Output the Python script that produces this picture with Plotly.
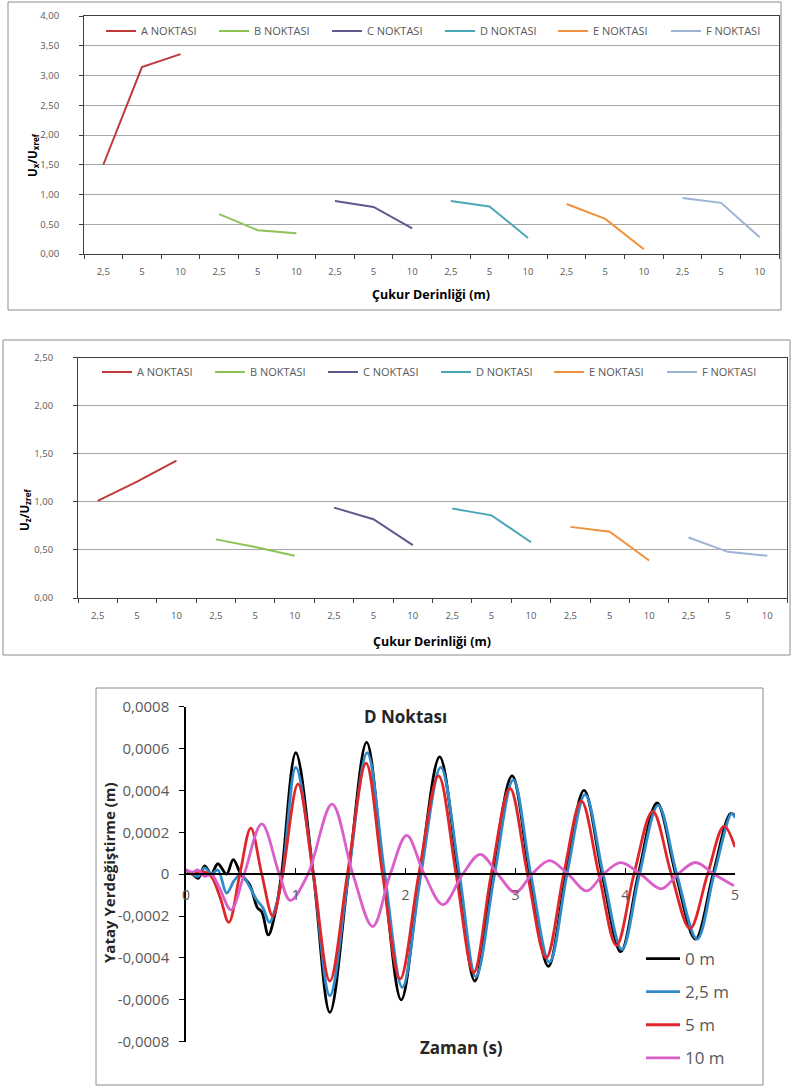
import plotly.graph_objects as go

W, H = 797, 1088

# ---- Panels 1 & 2: displacement ratios per point and pit depth ----
points = ["A NOKTASI", "B NOKTASI", "C NOKTASI", "D NOKTASI", "E NOKTASI", "F NOKTASI"]
point_colors = ["#C0393B", "#8DC255", "#5D5A8E", "#4BA6B8", "#F0913D", "#9DB3D6"]
depth_labels = ["2,5", "5", "10"]

ratio_x = [
    [1.50, 3.14, 3.36],
    [0.67, 0.40, 0.35],
    [0.89, 0.79, 0.43],
    [0.89, 0.80, 0.27],
    [0.84, 0.59, 0.08],
    [0.94, 0.86, 0.28],
]
ratio_z = [
    [1.01, 1.21, 1.43],
    [0.61, 0.53, 0.44],
    [0.94, 0.82, 0.55],
    [0.93, 0.86, 0.58],
    [0.74, 0.69, 0.39],
    [0.63, 0.48, 0.44],
]

# ---- Panel 3: horizontal displacement time history at point D ----
t_0m = [0.00, 0.06, 0.11, 0.17, 0.23, 0.29, 0.37, 0.43, 0.50, 0.58, 0.65, 0.69, 0.75, 0.81, 0.87,
        1.00, 1.16, 1.31, 1.48, 1.645, 1.80, 1.96, 2.13, 2.31, 2.48, 2.63, 2.79, 2.97, 3.13, 3.30,
        3.46, 3.625, 3.79, 3.96, 4.12, 4.29, 4.46, 4.64, 4.80, 4.96, 5.00]
u_0m = [0.00002, 0.0, -0.00002, 0.00004, 0.0, 0.00005, 0.0, 0.00007, 0.0, -0.00005, -0.00016,
        -0.00018, -0.00029, -0.00019, 0.0,
        0.00058, 0.0, -0.00066, 0.0, 0.00063, 0.0, -0.00060, 0.0, 0.00056, 0.0, -0.00051, 0.0,
        0.00047, 0.0, -0.00044, 0.0, 0.00040, 0.0, -0.00037, 0.0, 0.00034, 0.0, -0.00031, 0.0,
        0.00029, 0.00028]

t_2_5m = [0.00, 0.06, 0.11, 0.17, 0.23, 0.29, 0.37, 0.44, 0.50, 0.57, 0.64, 0.70, 0.76, 0.82, 0.88,
          1.00, 1.16, 1.31, 1.48, 1.65, 1.81, 1.97, 2.14, 2.32, 2.49, 2.64, 2.81, 2.98, 3.14, 3.31,
          3.47, 3.635, 3.80, 3.97, 4.13, 4.30, 4.47, 4.655, 4.81, 4.97, 5.00]
u_2_5m = [0.00002, 0.0, -0.00001, 0.00003, 0.0, 0.00002, -0.00009, -0.00003, 0.0, -0.00005,
          -0.00012, -0.00016, -0.00023, -0.00015, 0.0,
          0.00051, 0.0, -0.00058, 0.0, 0.00058, 0.0, -0.00054, 0.0, 0.00051, 0.0, -0.00049, 0.0,
          0.00045, 0.0, -0.00042, 0.0, 0.00038, 0.0, -0.00036, 0.0, 0.00033, 0.0, -0.00031, 0.0,
          0.00029, 0.00027]

t_5m = [0.00, 0.06, 0.11, 0.17, 0.23, 0.31, 0.39, 0.49, 0.59, 0.69, 0.79, 0.88,
        1.02, 1.16, 1.31, 1.47, 1.64, 1.79, 1.95, 2.12, 2.30, 2.46, 2.62, 2.78, 2.95, 3.11, 3.28,
        3.44, 3.60, 3.76, 3.92, 4.08, 4.25, 4.42, 4.59, 4.75, 4.90, 5.00]
u_5m = [0.00002, 0.0, 0.00001, 0.00001, -0.00001, -0.00011, -0.00023, 0.0, 0.00022, 0.0,
        -0.00020, 0.0,
        0.00043, 0.0, -0.00051, 0.0, 0.00053, 0.0, -0.00050, 0.0, 0.00047, 0.0, -0.00047, 0.0,
        0.00041, 0.0, -0.00040, 0.0, 0.00035, 0.0, -0.00034, 0.0, 0.00030, 0.0, -0.00026, 0.0,
        0.00023, 0.00013]

t_10m = [0.00, 0.06, 0.11, 0.17, 0.23, 0.30, 0.41, 0.53, 0.69, 0.85, 0.95, 1.11, 1.33, 1.52, 1.70,
         1.86, 2.01, 2.17, 2.34, 2.52, 2.68, 2.84, 3.00, 3.15, 3.31, 3.48, 3.65, 3.80, 3.96, 4.14,
         4.33, 4.48, 4.64, 4.81, 4.99]
u_10m = [0.00002, 0.00001, 0.00002, -0.00001, 0.0, -0.00006, -0.00017, 0.0, 0.00024, 0.0,
         -0.000125, 0.0, 0.000335, 0.0, -0.00025, 0.0, 0.000185, 0.0, -0.000145, 0.0, 0.000095,
         0.0, -0.000087, 0.0, 0.000065, 0.0, -0.00008, 0.0, 0.000055, 0.0, -0.00007, 0.0,
         0.000056, 0.0, -0.000055]

series_names = ["0 m", "2,5 m", "5 m", "10 m"]
series_colors = ["#000000", "#2F8BC9", "#E0262B", "#DA5FC8"]
series_t = [t_0m, t_2_5m, t_5m, t_10m]
series_u = [u_0m, u_2_5m, u_5m, u_10m]

y3_ticks = [0.0008, 0.0006, 0.0004, 0.0002, 0.0, -0.0002, -0.0004, -0.0006, -0.0008]
y3_labels = ["0,0008", "0,0006", "0,0004", "0,0002", "0", "-0,0002", "-0,0004", "-0,0006", "-0,0008"]
x3_ticks = [0, 1, 2, 3, 4, 5]


def fx(px):
    return px / W


def fy(py):
    return 1 - py / H


FONT = "'Open Sans', Lato, sans-serif"
GRAY = "#595959"
DARK = "#404040"

fig = go.Figure()

n_depth = len(depth_labels)
for data, xa, ya, leg in [(ratio_x, "x", "y", "legend"), (ratio_z, "x2", "y2", "legend2")]:
    for g, (name, color, vals) in enumerate(zip(points, point_colors, data)):
        fig.add_trace(go.Scatter(
            x=[g * n_depth + d for d in range(n_depth)], y=vals, mode="lines",
            name=name, line=dict(color=color, width=2),
            xaxis=xa, yaxis=ya, legend=leg, showlegend=True))

for name, color, t, u in zip(series_names, series_colors, series_t, series_u):
    fig.add_trace(go.Scatter(
        x=t, y=u, mode="lines", name=name,
        line=dict(color=color, width=2.8, shape="spline", smoothing=1.0),
        xaxis="x3", yaxis="y3", legend="legend3", legendgroup=name))

cat_count = n_depth * len(points)
cat_vals = list(range(cat_count))
cat_text = depth_labels * len(points)
boundaries = [i - 0.5 for i in range(cat_count + 1)]


def cat_xaxis(x0, x1, anchor):
    return dict(domain=[fx(x0), fx(x1)], anchor=anchor, range=[-0.5, cat_count - 0.5],
                tickmode="array", tickvals=cat_vals, ticktext=cat_text, ticks="",
                showline=True, mirror=True, linecolor=DARK, linewidth=1,
                showgrid=False, zeroline=False,
                tickfont=dict(size=9.5, color=GRAY, family=FONT), ticklabelstandoff=9,
                minor=dict(tickmode="array", tickvals=boundaries, ticks="outside",
                           ticklen=4, tickcolor=DARK, showgrid=False))


def ratio_yaxis(y_top, y_bot, anchor, top):
    return dict(domain=[fy(y_bot), fy(y_top)], anchor=anchor, range=[0, top],
                tick0=0, dtick=0.5, tickformat=".2f", showgrid=True, gridcolor="#A6A6A6",
                gridwidth=1, showline=True, mirror=True, linecolor=DARK, linewidth=1,
                ticks="outside", ticklen=4, tickcolor=DARK, zeroline=False,
                tickfont=dict(size=9.5, color=GRAY, family=FONT), ticklabelstandoff=18)


def row_legend(x_px, y_px):
    return dict(orientation="h", x=fx(x_px), xanchor="left", y=fy(y_px), yanchor="middle",
                bgcolor="rgba(0,0,0,0)", entrywidth=68, entrywidthmode="pixels",
                font=dict(size=11, color=GRAY, family=FONT), itemwidth=30)


y3_top, y3_bot = 706.7, 1041.7
fig.update_layout(
    width=W, height=H, margin=dict(l=0, r=0, t=0, b=0, autoexpand=False),
    paper_bgcolor="white", plot_bgcolor="white", separators=",.",
    font=dict(family=FONT, color=GRAY),
    xaxis=cat_xaxis(84, 779, "y"),
    yaxis=ratio_yaxis(16, 254, "x", 4),
    xaxis2=cat_xaxis(78, 787, "y2"),
    yaxis2=ratio_yaxis(357.7, 598, "x2", 2.5),
    xaxis3=dict(domain=[fx(186), fx(735)], anchor="free",
                position=(fy(y3_top) + fy(y3_bot)) / 2, range=[0, 5],
                tickmode="array", tickvals=x3_ticks, ticks="inside", ticklen=5,
                tickcolor="#000000", showline=True, linecolor="#000000", linewidth=1.5,
                showgrid=False, zeroline=False,
                tickfont=dict(size=14, color=GRAY, family=FONT), ticklabelstandoff=8),
    yaxis3=dict(domain=[fy(y3_bot), fy(y3_top)], anchor="x3", range=[-0.0008, 0.0008],
                tickmode="array", tickvals=y3_ticks, ticktext=y3_labels,
                ticks="outside", ticklen=5, tickcolor="#000000", showline=True,
                linecolor="#000000", linewidth=1.5, showgrid=False, zeroline=False,
                tickfont=dict(size=15, color=GRAY, family=FONT), ticklabelstandoff=7),
    legend=row_legend(101, 31),
    legend2=row_legend(97, 372),
    legend3=dict(orientation="v", x=fx(641), xanchor="left", y=fy(941), yanchor="top",
                 bgcolor="rgba(0,0,0,0)", traceorder="grouped", tracegroupgap=8,
                 font=dict(size=17, color=GRAY, family=FONT), itemwidth=34),
)

# Chart frames
for x0, y0, x1, y1 in [(8, 2, 781, 310), (3, 340, 790, 655), (96, 688, 763, 1085)]:
    fig.add_shape(type="rect", xref="paper", yref="paper",
                  x0=fx(x0), x1=fx(x1), y0=fy(y1), y1=fy(y0),
                  line=dict(color="#8C8C8C", width=1), layer="below")

ann = []
ann.append(dict(text="<b>U<sub>x</sub>/U<sub>xref</sub></b>", x=fx(33), y=fy(155),
                textangle=-90, font=dict(size=11.5, color="#000000", family=FONT)))
ann.append(dict(text="<b>Çukur Derinliği (m)</b>", x=fx(431), y=fy(294),
                font=dict(size=12.5, color="#000000", family=FONT)))
ann.append(dict(text="<b>U<sub>z</sub>/U<sub>zref</sub></b>", x=fx(25), y=fy(510),
                textangle=-90, font=dict(size=11.5, color="#000000", family=FONT)))
ann.append(dict(text="<b>Çukur Derinliği (m)</b>", x=fx(432), y=fy(641),
                font=dict(size=12.5, color="#000000", family=FONT)))
ann.append(dict(text="<b>D Noktası</b>", x=fx(405), y=fy(716),
                font=dict(size=17, color="#262626", family=FONT)))
ann.append(dict(text="<b>Yatay Yerdeğiştirme (m)</b>", x=fx(109), y=fy(872),
                textangle=-90, font=dict(size=15, color="#262626", family=FONT)))
ann.append(dict(text="<b>Zaman (s)</b>", x=fx(461), y=fy(1047),
                font=dict(size=17, color="#262626", family=FONT)))
for a in ann:
    a.update(xref="paper", yref="paper", showarrow=False, xanchor="center", yanchor="middle")
fig.update_layout(annotations=ann)

fig.write_html("out.html")
